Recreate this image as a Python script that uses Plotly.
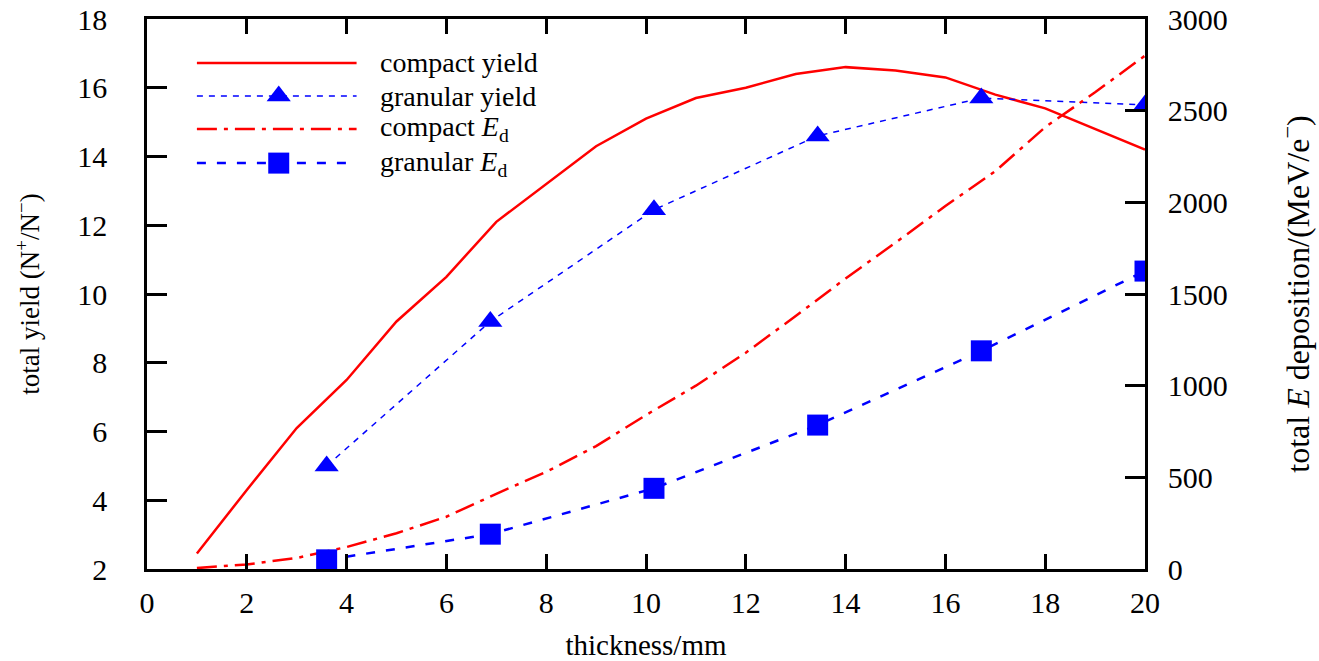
import plotly.graph_objects as go

# ---- data ----
thickness = list(range(1, 21))
compact_yield = [2.45, 4.3, 6.1, 7.5, 9.2, 10.5, 12.1, 13.2, 14.3, 15.1,
                 15.7, 16.0, 16.4, 16.6, 16.5, 16.3, 15.8, 15.4, 14.8, 14.2]
compact_ed = [5, 25, 60, 120, 195, 285, 410, 530, 670, 840,
              1000, 1180, 1380, 1585, 1780, 1980, 2170, 2410, 2600, 2800]
granular_thickness = [3.6, 6.88, 10.16, 13.44, 16.72, 20.0]
granular_yield = [5.0, 9.2, 12.45, 14.6, 15.7, 15.5]
granular_ed = [50, 190, 440, 785, 1190, 1625]

x_ticks = list(range(0, 21, 2))
y_ticks = list(range(2, 19, 2))
y2_ticks = list(range(0, 3001, 500))

legend_names = ["compact yield", "granular yield",
                "compact <i>E</i><sub>d</sub>", "granular <i>E</i><sub>d</sub>"]

RED = "#ff0000"
BLUE = "#0000ff"
FONT = "Liberation Serif, Times New Roman, serif"

styles = [
    dict(line=dict(color=RED, width=2.5, dash="solid"), symbol=None),
    dict(line=dict(color=BLUE, width=1.5, dash="6px,6px"), symbol="triangle-up"),
    dict(line=dict(color=RED, width=2.5, dash="20px,7px,4px,7px"), symbol=None),
    dict(line=dict(color=BLUE, width=2.5, dash="9px,11px"), symbol="square"),
]

fig = go.Figure()

# ---- custom legend (long sample lines like the original), drawn underneath ----
row_y = [0.92, 0.86, 0.80, 0.738]
x0, x1, xm = 0.05, 0.21, 0.132
for name, st, yy in zip(legend_names, styles, row_y):
    fig.add_trace(go.Scatter(x=[x0, x1], y=[yy, yy], mode="lines", line=st["line"],
                             xaxis="x3", yaxis="y3", showlegend=False, hoverinfo="skip"))
    if st["symbol"]:
        fig.add_trace(go.Scatter(x=[xm], y=[yy], mode="markers",
                                 marker=dict(symbol=st["symbol"], size=21, color=BLUE),
                                 xaxis="x3", yaxis="y3", showlegend=False, hoverinfo="skip"))
    fig.add_annotation(x=0.2315, y=yy, xref="paper", yref="paper", text=name,
                       showarrow=False, xanchor="left", yanchor="middle",
                       font=dict(family=FONT, size=28, color="black"))

fig.add_trace(go.Scatter(x=thickness, y=compact_yield, mode="lines",
                         line=styles[0]["line"], name="compact yield",
                         showlegend=False))
fig.add_trace(go.Scatter(x=granular_thickness, y=granular_yield, mode="lines+markers",
                         line=styles[1]["line"],
                         marker=dict(symbol="triangle-up", size=21, color=BLUE),
                         name="granular yield", showlegend=False))
fig.add_trace(go.Scatter(x=thickness, y=compact_ed, mode="lines",
                         line=styles[2]["line"], name="compact Ed", yaxis="y2",
                         showlegend=False))
fig.add_trace(go.Scatter(x=granular_thickness, y=granular_ed, mode="lines+markers",
                         line=styles[3]["line"],
                         marker=dict(symbol="square", size=21, color=BLUE),
                         name="granular Ed", yaxis="y2", showlegend=False))

axis_common = dict(showgrid=False, zeroline=False, showline=True, linecolor="black",
                   linewidth=2.5, ticks="inside", tickcolor="black", tickwidth=2.5,
                   automargin=False, ticklabeloverflow="allow",
                   tickfont=dict(family=FONT, size=30, color="black"))

fig.update_layout(
    width=1319, height=661,
    margin=dict(l=147, r=174, t=19, b=92),
    paper_bgcolor="white", plot_bgcolor="rgba(0,0,0,0)",
    font=dict(family=FONT, color="black"),
    xaxis=dict(range=[0, 20], tickvals=x_ticks, ticklen=15, mirror="ticks",
               ticklabelstandoff=5,
               title=dict(text="thickness/mm", font=dict(family=FONT, size=29), standoff=17),
               **axis_common),
    yaxis=dict(range=[2, 18], tickvals=y_ticks, ticklen=20, mirror=True,
               ticklabelstandoff=31,
               title=dict(text="total yield (N<sup>+</sup>/N<sup>\u2212</sup>)",
                          font=dict(family=FONT, size=27), standoff=30),
               **axis_common),
    yaxis2=dict(range=[0, 3000], tickvals=y2_ticks, ticklen=20, overlaying="y",
                side="right", anchor="x", ticklabelstandoff=14,
                title=dict(text="total <i>E</i> deposition/(MeV/e<sup>\u2212</sup>)",
                           font=dict(family=FONT, size=32), standoff=60),
                **axis_common),
    xaxis3=dict(domain=[0, 1], range=[0, 1], visible=False, anchor="y3",
                overlaying="x", fixedrange=True),
    yaxis3=dict(domain=[0, 1], range=[0, 1], visible=False, anchor="x3",
                overlaying="y", fixedrange=True),
    showlegend=False,
)

fig.write_html("out.html",
               config={"displayModeBar": False},
               post_script="document.body.style.margin='0';document.body.style.overflow='hidden';")
